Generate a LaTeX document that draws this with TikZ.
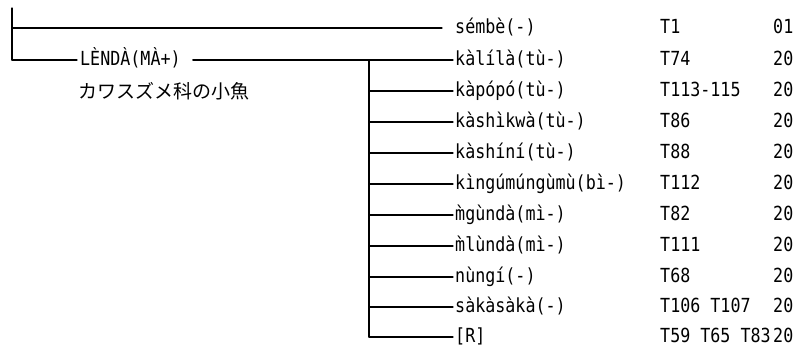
\documentclass[tikz,border=0pt]{standalone}
\usepackage{fontspec}
\newfontfamily\lblfont[FakeStretch=0.86]{DejaVu Sans Mono}
\newfontfamily\cjkfont{Noto Sans CJK JP}
\begin{document}
\begin{tikzpicture}[x=1pt,y=-1pt,
  treeline/.style={line width=1.2pt, line cap=round},
  lbl/.style={anchor=base west, inner sep=0pt, font=\lblfont\fontsize{19.4}{22}\selectfont},
  jp/.style={anchor=west, inner sep=0pt, font=\cjkfont\fontsize{19}{22}\selectfont}]
\useasboundingbox (0,0) rectangle (797,348);
\def\wx{455}\def\tx{660}\def\cx{773}
% left root
\coordinate (top) at (12,8);
\coordinate (r1) at (12,28);
\coordinate (r2) at (12,60);
% first word
\node[lbl] (w1) at (\wx,33) {sémbè(-)};
\node[lbl] (t1) at (\tx,33) {T1};
\node[lbl] (c1) at (\cx,33) {01};
% LENDA
\node[lbl] (len) at (80,65) {LÈNDÀ(MÀ+)};
\node[jp] (jp) at (78,91) {カワスズメ科の小魚};
\draw[treeline] (top) -- (r2);
\draw[treeline] (r1) -- ([xshift=-13pt]w1.west |- r1);
\draw[treeline] (r2) -- ([xshift=-3pt]len.west |- r2);
% branch rows
\foreach \i/\y/\w/\t in {
  2/60/{kàlílà(tù-)}/{T74},
  3/91/{kàpópó(tù-)}/{T113-115},
  4/122/{kàshìkwà(tù-)}/{T86},
  5/153/{kàshíní(tù-)}/{T88},
  6/184/{kìngúmúngùmù(bì-)}/{T112},
  7/215/{m̀gùndà(mì-)}/{T82},
  8/246/{m̀lùndà(mì-)}/{T111},
  9/277/{nùngí(-)}/{T68},
  10/307/{sàkàsàkà(-)}/{T106 T107},
  11/337/{[R]}/{T59 T65 T83}}{
  \node[lbl] (w\i) at (\wx,\y+5) {\w};
  \node[lbl] (t\i) at (\tx,\y+5) {\t};
  \node[lbl] (c\i) at (\cx,\y+5) {20};
  \coordinate (b\i) at (369,\y);
  \draw[treeline] (b\i) -- ([xshift=-2pt]w\i.west |- b\i);
}
\draw[treeline] ([xshift=12pt]len.east |- r2) -- (b2);
\draw[treeline] (b2) -- (b11);
\end{tikzpicture}
\end{document}
